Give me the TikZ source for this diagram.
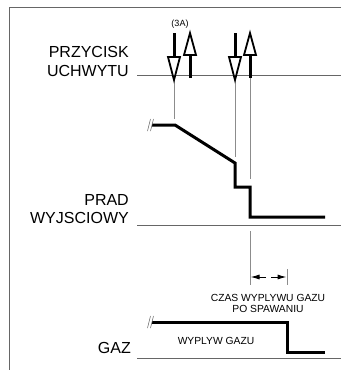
\documentclass[tikz,border=0pt]{standalone}
\usepackage{fontspec}
\setmainfont{Liberation Sans}
\usetikzlibrary{arrows.meta}
\begin{document}
\begin{tikzpicture}[x=1pt,y=-1pt,
  frame/.style={draw=black!60, line width=1pt},
  base/.style={draw=black!60, line width=0.9pt},
  guide/.style={draw=black!45, line width=0.8pt},
  wave/.style={line width=3pt, line join=miter},
  brk/.style={draw=black!60, line width=0.5pt},
  shaft/.style={line width=3pt},
  head/.style={line width=1.8pt, fill=white, line join=miter},
  big/.style={font=\fontsize{16}{18}\selectfont, anchor=east, inner sep=0},
  small/.style={font=\fontsize{10.3}{11}\selectfont, inner sep=0},
  tiny/.style={font=\fontsize{9}{10}\selectfont, inner sep=0},
  dim/.style={line width=1pt, -{Latex[length=9pt,width=5pt]}}]
\useasboundingbox (0,0) rectangle (341,370);
% frame
\draw[frame] (9,370) -- (9,7) -- (341,7);
% baselines
\coordinate (b1s) at (137,75);  \coordinate (b1e) at (341,75);
\coordinate (b2s) at (137,225); \coordinate (b2e) at (341,225);
\coordinate (b3s) at (137,358); \coordinate (b3e) at (341,358);
\draw[base] (b1s) -- (b1e);
\draw[base] (b2s) -- (b2e);
\draw[base] (b3s) -- (b3e);
% labels
\node[big] (l1) at (129,52) {PRZYCISK};
\node[big] (l2) at (129,71) {UCHWYTU};
\node[big] (l3) at (129,200) {PRAD};
\node[big] (l4) at (129,218) {WYJSCIOWY};
\node[big] (l5) at (131,348) {GAZ};
\node[tiny] (l6) at (180,24) {(3A)};
% guide lines
\draw[guide] (174,80) -- (174,119);
\draw[guide] (235,80) -- (235,157);
\draw[guide] (250,78) -- (250,179);
\draw[guide] (250,231) -- (250,285);
\draw[guide] (287,269) -- (287,285);
% button arrows
\foreach \x in {174,235}{
  \draw[shaft] (\x,33) -- (\x,57);
  \draw[head] (\x-6,57) -- (\x+6,57) -- (\x,80) -- cycle;
}
\foreach \x in {190,250}{
  \draw[shaft] (\x,55) -- (\x,78);
  \draw[head] (\x-6,55) -- (\x+6,55) -- (\x,33) -- cycle;
}
% output current
\draw[wave] (152,125) -- (175,125) -- (235,163) -- (235,187) -- (250,187) -- (250,217) -- (325,217);
\draw[brk] (147.5,131) -- (150.5,119);
\draw[brk] (150.5,131) -- (153.5,119);
% gas
\draw[wave] (152,322) -- (287,322) -- (287,352) -- (325,352);
\draw[brk] (147.5,328) -- (150.5,316);
\draw[brk] (150.5,328) -- (153.5,316);
% dimension
\coordinate (d1) at (266,277); \coordinate (d1e) at (250.5,277);
\coordinate (d2) at (271,277); \coordinate (d2e) at (286.5,277);
\draw[dim] (d1) -- (d1e);
\draw[dim] (d2) -- (d2e);
\node[small] (c1) at (268,298) {CZAS WYPLYWU GAZU};
\node[small] (c2) at (268,309) {PO SPAWANIU};
\node[small] (c3) at (216,341) {WYPLYW GAZU};
\end{tikzpicture}
\end{document}
